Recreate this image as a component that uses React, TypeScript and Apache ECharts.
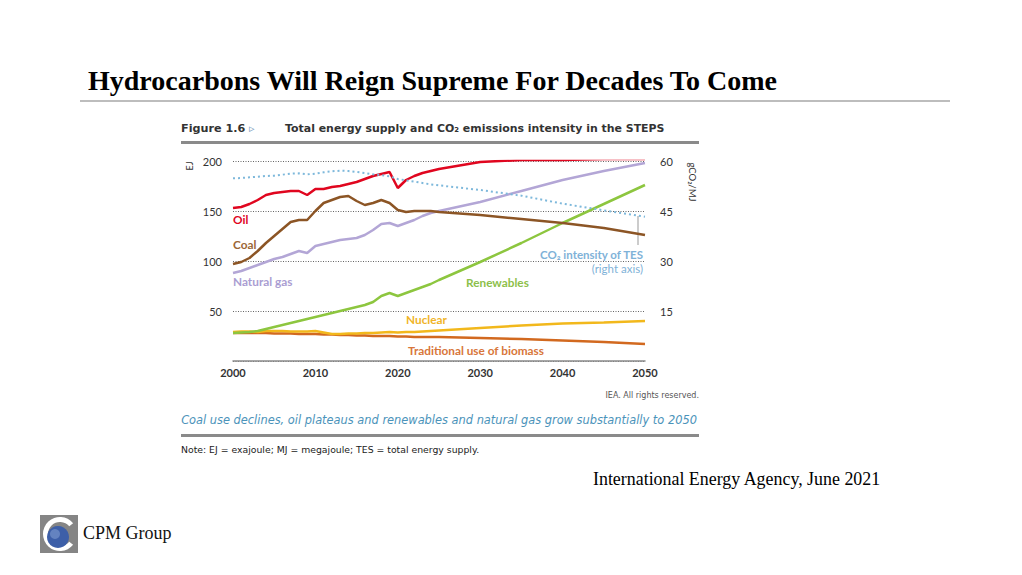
import React, { useEffect, useRef } from "react";
import * as echarts from "echarts";

const years = [2000, 2001, 2002, 2003, 2004, 2005, 2006, 2007, 2008, 2009, 2010, 2011, 2012, 2013, 2014, 2015, 2016, 2017, 2018, 2019, 2020, 2021, 2022, 2023, 2024, 2025, 2030, 2035, 2040, 2045, 2050];
const oil = [153, 154, 157, 161, 166, 168, 169, 170, 170, 166, 172, 172, 174, 175, 177, 179, 182, 185, 187, 189, 173, 181, 185, 188, 190, 192, 199, 201, 201, 202, 202];
const coal = [97, 99, 103, 110, 118, 125, 132, 139, 141, 141, 150, 158, 161, 164, 165, 160, 156, 158, 161, 158, 151, 149, 150, 150, 150, 149, 146, 142, 138, 133, 126];
const naturalGas = [88, 90, 93, 96, 99, 102, 104, 107, 110, 108, 115, 117, 119, 121, 122, 123, 126, 131, 137, 138, 135, 138, 141, 145, 148, 150, 159, 170, 181, 190, 198];
const renewables = [28, 28.5, 29, 30, 32, 34, 36, 38, 40, 42, 44, 46, 48, 50, 52, 54, 56, 59, 65, 68, 65, 68, 71, 74, 77, 81, 99, 118, 138, 157, 176];
const nuclear = [29, 29.5, 29.5, 29, 30, 30, 30, 29.5, 29.5, 29.5, 30, 28.5, 27, 27, 27.5, 27.5, 28, 28, 28.5, 29, 28.5, 29, 29, 29.5, 30, 30.5, 33, 35.5, 37.5, 38.5, 40];
const biomass = [28, 28, 28, 28, 28, 27.5, 27.5, 27.5, 27, 27, 27, 26.5, 26.5, 26, 26, 25.5, 25.5, 25, 25, 25, 24.5, 24.5, 24, 24, 24, 24, 23, 22, 20.5, 19, 17];
const co2Intensity = [54.8, 54.9, 55.1, 55.3, 55.5, 55.6, 55.9, 56.2, 56.3, 56.0, 56.2, 56.6, 56.9, 57.1, 57.0, 56.7, 56.4, 56.0, 55.8, 55.4, 54.6, 54.2, 53.8, 53.4, 53.0, 52.7, 51.3, 49.6, 47.2, 45.2, 43.3];

const leftTicks = [0, 50, 100, 150, 200];
const rightTicks = [0, 15, 30, 45, 60];
const xTicks = [2000, 2010, 2020, 2030, 2040, 2050];

const SANS = "Lato, 'Open Sans', sans-serif";
const WIDE = "'DejaVu Sans', Verdana, sans-serif";
const SERIF = "'Liberation Serif', 'Times New Roman', serif";

function pairs(vals: number[]) {
  return years.map((y, i) => [y, vals[i]]);
}

function txt(x: number, y: number, text: string, font: string, fill: string, align = "left", rotation = 0) {
  return {
    type: "text",
    x,
    y,
    rotation,
    z: 100,
    style: { text, font, fill, align, verticalAlign: "middle", textAlign: align, textVerticalAlign: "middle" },
  };
}

export default function App() {
  const ref = useRef<HTMLDivElement>(null);
  useEffect(() => {
    if (!ref.current) return;
    const chart = echarts.init(ref.current, undefined, { renderer: "svg" });
    const line = (name: string, data: number[], color: string, width = 2.5, yIdx = 0, type: any = "solid") => ({
      type: "line",
      name,
      data: pairs(data),
      yAxisIndex: yIdx,
      showSymbol: false,
      symbol: "none",
      lineStyle: { color, width, type },
      itemStyle: { color },
    });
    chart.setOption({
      animation: false,
      backgroundColor: "#ffffff",
      grid: { left: 233, right: 377, top: 161, bottom: 214 },
      xAxis: {
        type: "value",
        min: 2000,
        max: 2050,
        interval: 10,
        axisLine: { show: true, lineStyle: { color: "#8a8a8a", width: 1.5 } },
        axisTick: { show: false },
        splitLine: { show: false },
        axisLabel: { color: "#333", fontFamily: SANS, fontSize: 11, fontWeight: "bold", margin: 6, formatter: (v: number) => (xTicks.includes(v) ? String(v) : "") },
      },
      yAxis: [
        {
          type: "value",
          min: leftTicks[0],
          max: leftTicks[leftTicks.length - 1],
          interval: 50,
          axisLine: { show: false },
          axisTick: { show: false },
          splitLine: { show: true, lineStyle: { color: "#666", type: [1, 1.5], width: 1 } },
          axisLabel: { color: "#333", fontFamily: SANS, fontSize: 11, margin: 11, formatter: (v: number) => (v === 0 ? "" : String(v)) },
        },
        {
          type: "value",
          min: rightTicks[0],
          max: rightTicks[rightTicks.length - 1],
          interval: 15,
          position: "right",
          axisLine: { show: false },
          axisTick: { show: false },
          splitLine: { show: false },
          axisLabel: { color: "#333", fontFamily: SANS, fontSize: 11, margin: 15, formatter: (v: number) => (v === 0 ? "" : String(v)) },
        },
      ],
      series: [
        line("Traditional use of biomass", biomass, "#d2691f"),
        line("Nuclear", nuclear, "#f2b81c"),
        line("Renewables", renewables, "#8dc63f"),
        line("Natural gas", naturalGas, "#b3a6d6"),
        line("Coal", coal, "#8c5525"),
        line("Oil", oil, "#e0061f"),
        line("CO2 intensity of TES", co2Intensity, "#7db8db", 2, 1, [2, 3]),
      ],
      graphic: [
        txt(88, 80, "Hydrocarbons Will Reign Supreme For Decades To Come", "bold 28px " + SERIF, "#000"),
        { type: "rect", shape: { x: 80, y: 100, width: 870, height: 2 }, style: { fill: "#bdbdbd" } },
        txt(181, 128, "Figure 1.6", "bold 11.2px " + WIDE, "#333"),
        txt(249, 128, "▹", "11px " + WIDE, "#7a9cc0"),
        txt(285, 128, "Total energy supply and CO₂ emissions intensity in the STEPS", "bold 10.95px " + WIDE, "#333"),
        { type: "rect", shape: { x: 181, y: 141, width: 518, height: 3 }, style: { fill: "#8a8a8a" } },
        txt(189, 166, "EJ", "9px " + SANS, "#333", "center", Math.PI / 2),
        txt(692, 182, "gCO₂/MJ", "9.5px " + SANS, "#333", "center", -Math.PI / 2),
        txt(233, 219, "Oil", "bold 11.8px " + SANS, "#e0061f"),
        txt(233, 244, "Coal", "bold 11.8px " + SANS, "#9b6636"),
        txt(233, 281, "Natural gas", "bold 11.8px " + SANS, "#aa9dd2"),
        txt(466, 282, "Renewables", "bold 11.8px " + SANS, "#8dc04a"),
        txt(406, 319, "Nuclear", "bold 11.8px " + SANS, "#f0b428"),
        txt(408, 350, "Traditional use of biomass", "bold 11.8px " + SANS, "#d8763a"),
        txt(643, 254, "CO₂ intensity of TES", "bold 11.5px " + SANS, "#7fb2d8", "right"),
        txt(643, 268, "(right axis)", "11.5px " + SANS, "#7fb2d8", "right"),
        { type: "line", shape: { x1: 638, y1: 216, x2: 638, y2: 245 }, style: { stroke: "#999", lineWidth: 1 } },
        txt(699, 395, "IEA. All rights reserved.", "8px " + WIDE, "#555", "right"),
        txt(439, 420, "Coal use declines, oil plateaus and renewables and natural gas grow substantially to 2050", "italic 11.4px " + WIDE, "#4b93ba", "center"),
        { type: "rect", shape: { x: 181, y: 434, width: 518, height: 3 }, style: { fill: "#8a8a8a" } },
        txt(181, 449, "Note: EJ = exajoule; MJ = megajoule; TES = total energy supply.", "9.3px " + WIDE, "#222"),
        txt(593, 479, "International Energy Agency, June 2021", "17.9px " + SERIF, "#000"),
        { type: "rect", shape: { x: 40, y: 515, width: 38, height: 38 }, style: { fill: "#858585" } },
        { type: "sector", shape: { cx: 60, cy: 534, r0: 12, r: 17, startAngle: Math.PI * 0.22, endAngle: Math.PI * 1.78, clockwise: true }, style: { fill: "#ffffff" } },
        { type: "circle", shape: { cx: 58, cy: 537, r: 11 }, style: { fill: "#3d5fa8" } },
        { type: "circle", shape: { cx: 55, cy: 534, r: 5 }, style: { fill: "#7f9bd0", opacity: 0.6 } },
        txt(83, 533, "CPM Group", "18px " + SERIF, "#111"),
      ],
    });
    return () => chart.dispose();
  }, []);
  return <div ref={ref} style={{ position: "absolute", left: 0, top: 0, width: 1022, height: 575, background: "#fff" }} />;
}
